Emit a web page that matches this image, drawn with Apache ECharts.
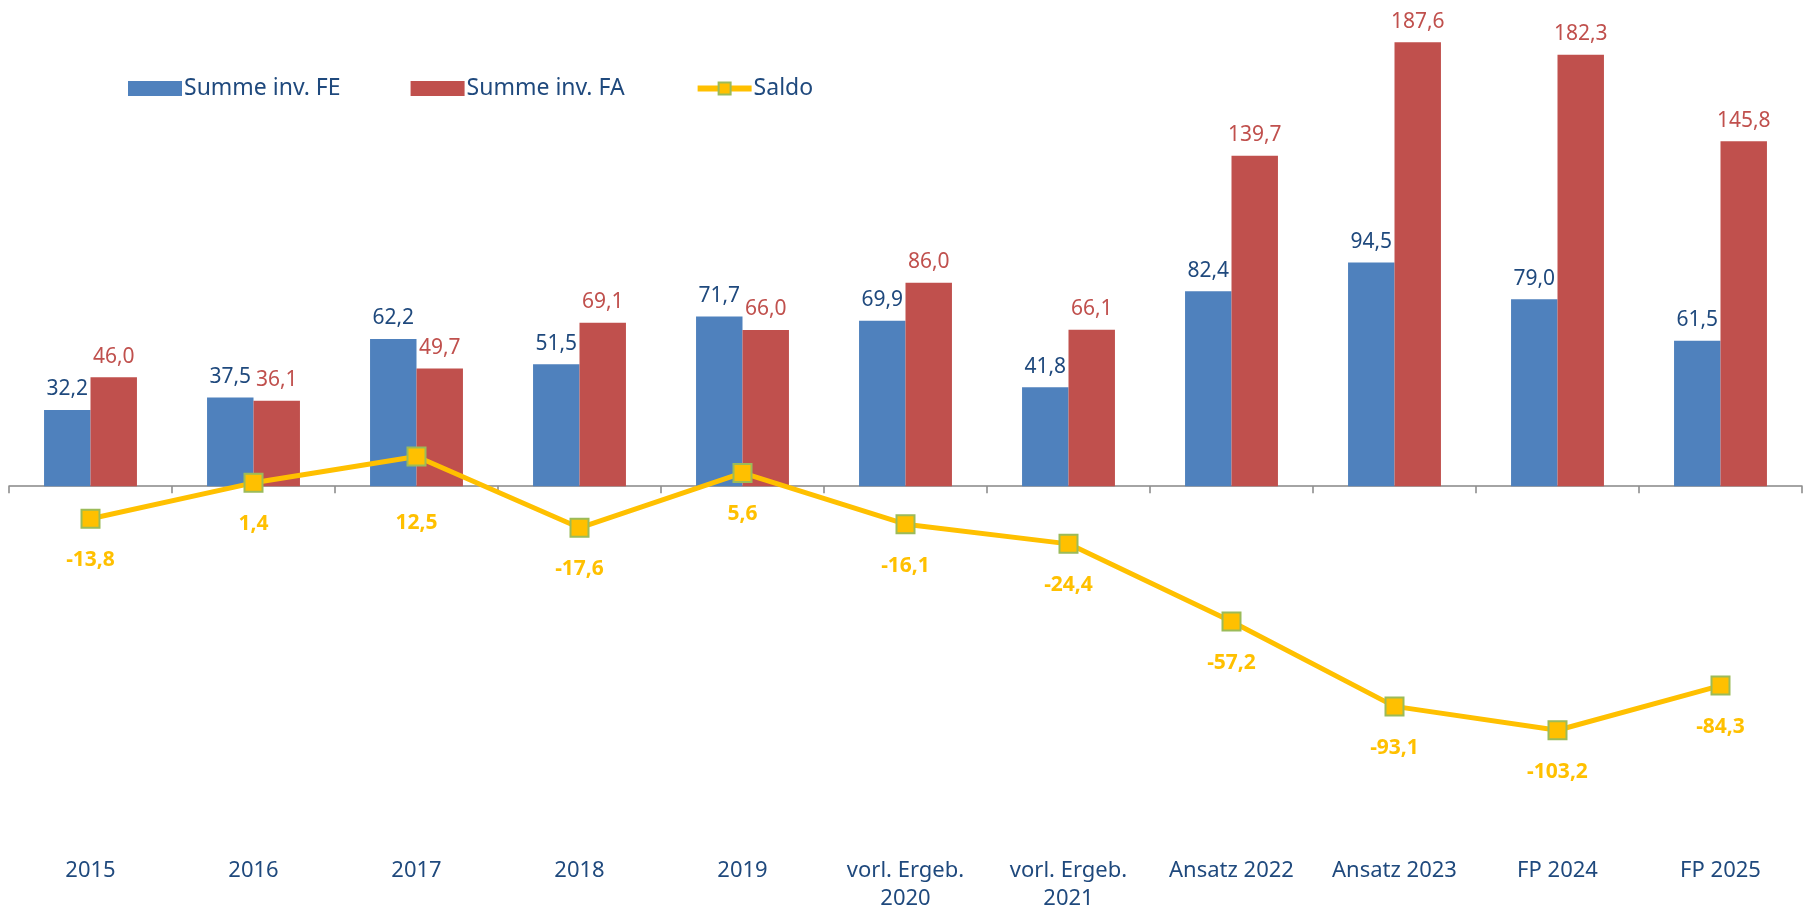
<!DOCTYPE html>
<html>
<head>
<meta charset="utf-8">
<script src="https://cdn.jsdelivr.net/npm/echarts@6/dist/echarts.min.js"></script>
<style>
html,body{margin:0;padding:0;background:#fff;}
#c{width:1808px;height:913px;}
</style>
</head>
<body>
<div id="c"></div>
<script>
const categories = ['2015','2016','2017','2018','2019','vorl. Ergeb.\n2020','vorl. Ergeb.\n2021','Ansatz 2022','Ansatz 2023','FP 2024','FP 2025'];
const fe = [32.2, 37.5, 62.2, 51.5, 71.7, 69.9, 41.8, 82.4, 94.5, 79.0, 61.5];
const fa = [46.0, 36.1, 49.7, 69.1, 66.0, 86.0, 66.1, 139.7, 187.6, 182.3, 145.8];
const saldo = [-13.8, 1.4, 12.5, -17.6, 5.6, -16.1, -24.4, -57.2, -93.1, -103.2, -84.3];

const FONT = 'Noto Sans';
const fmt = p => p.value.toFixed(1).replace('.', ',');
const saldoData = saldo.map((v, i) => i === 2 ? { value: v, label: { offset: [0, 25] } } : v);

const chart = echarts.init(document.getElementById('c'), null, { renderer: 'canvas' });
chart.setOption({
  animation: false,
  textStyle: { fontFamily: FONT },
  legend: {
    left: 123, top: 72,
    itemWidth: 54, itemHeight: 15, itemGap: 70,
    textStyle: { fontFamily: FONT, fontSize: 23, color: '#1F497D', padding: [0, 0, 0, -3] },
    data: [
      { name: 'Summe inv. FE', icon: 'rect' },
      { name: 'Summe inv. FA', icon: 'rect' },
      { name: 'Saldo', lineStyle: { width: 6, color: '#FFC000' }, itemStyle: { color: '#FFC000', borderColor: '#9BBB59', borderWidth: 2 } }
    ]
  },
  grid: { left: 9, right: 6, top: 13, bottom: 67 },
  xAxis: [
    {
      type: 'category', data: categories, position: 'bottom',
      axisLine: { onZero: true, lineStyle: { color: '#868686', width: 1.5 } },
      axisTick: { show: true, length: 7, lineStyle: { color: '#868686', width: 1.5 } },
      axisLabel: { show: false }
    },
    {
      type: 'category', data: categories, position: 'bottom',
      axisLine: { show: false, onZero: false },
      axisTick: { show: false },
      axisLabel: { show: true, interval: 0, margin: 16, fontFamily: FONT, fontSize: 22, color: '#1F497D', lineHeight: 28 }
    }
  ],
  yAxis: {
    type: 'value', min: -150, max: 200, show: false,
    splitLine: { show: false }
  },
  series: [
    {
      name: 'Summe inv. FE', type: 'bar', data: fe, xAxisIndex: 0,
      barGap: '0%', barCategoryGap: '43%',
      itemStyle: { color: '#4F81BD' },
      label: { show: true, position: 'top', distance: 10, formatter: fmt, fontFamily: FONT, fontSize: 21, color: '#1F497D' }
    },
    {
      name: 'Summe inv. FA', type: 'bar', data: fa, xAxisIndex: 0,
      barGap: '0%', barCategoryGap: '43%',
      itemStyle: { color: '#C0504D' },
      label: { show: true, position: 'top', distance: 10, formatter: fmt, fontFamily: FONT, fontSize: 21, color: '#C0504D' }
    },
    {
      name: 'Saldo', type: 'line', data: saldoData, xAxisIndex: 0,
      symbol: 'rect', symbolSize: 18,
      lineStyle: { color: '#FFC000', width: 5 },
      itemStyle: { color: '#FFC000', borderColor: '#9BBB59', borderWidth: 2 },
      label: { show: true, position: 'bottom', distance: 21, formatter: fmt, fontFamily: FONT, fontSize: 21, fontWeight: 'bold', color: '#FFC000' },
      z: 5
    }
  ]
});
</script>
</body>
</html>
